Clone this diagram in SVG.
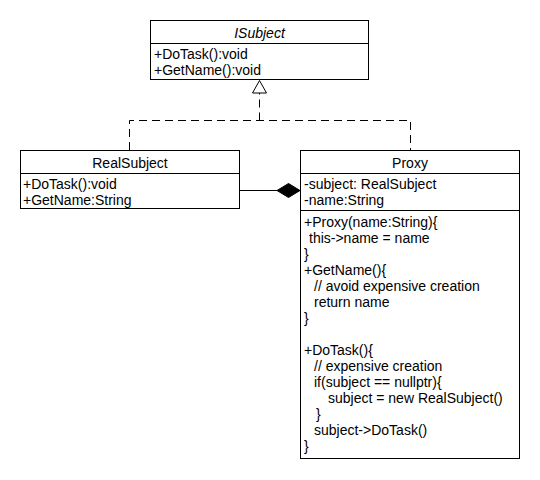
<svg xmlns="http://www.w3.org/2000/svg" width="540" height="480" viewBox="0 0 540 480">
<style>
.box{fill:#fff;stroke:#000;stroke-width:1}
.sep{stroke:#000;stroke-width:1}
text{font-family:"Liberation Sans",Arial,sans-serif;font-size:14px;fill:#000}
.c{text-anchor:middle}
.it{font-style:italic}
.dash{fill:none;stroke:#000;stroke-width:1;stroke-dasharray:8,5}
.solid{fill:none;stroke:#000;stroke-width:1}
</style>
<rect width="540" height="480" fill="#fff"/>
<g id="connectors">
<path class="dash" d="M129.5,150 V120.5 H410.5 V150"/>
<path class="dash" d="M259.5,120.5 V93"/>
<polygon points="259.5,80.5 252.5,93 266.5,93" fill="#fff" stroke="#000"/>
<line class="solid" x1="239.5" y1="190.5" x2="278" y2="190.5"/>
<polygon points="277,190.5 288.5,183.5 300,190.5 288.5,197.5" fill="#000" stroke="#000"/>
</g>
<g id="ISubject">
<rect class="box" x="150.5" y="20.5" width="218" height="59"/>
<line class="sep" x1="150.5" y1="43.5" x2="368.5" y2="43.5"/>
<text class="c it" x="259.5" y="38">ISubject</text>
<text x="154" y="59">+DoTask():void</text>
<text x="154" y="75">+GetName():void</text>
</g>
<g id="RealSubject">
<rect class="box" x="20.5" y="150.5" width="219" height="58"/>
<line class="sep" x1="20.5" y1="173.5" x2="239.5" y2="173.5"/>
<text class="c" x="130" y="168">RealSubject</text>
<text x="23" y="189">+DoTask():void</text>
<text x="23" y="205">+GetName:String</text>
</g>
<g id="Proxy">
<rect class="box" x="300.5" y="150.5" width="219" height="308"/>
<line class="sep" x1="300.5" y1="173.5" x2="519.5" y2="173.5"/>
<line class="sep" x1="300.5" y1="210.5" x2="519.5" y2="210.5"/>
<text class="c" x="410" y="168">Proxy</text>
<text x="304" y="189">-subject: RealSubject</text>
<text x="304" y="205">-name:String</text>
<text x="304" y="227">+Proxy(name:String){</text>
<text x="309" y="243">this-&gt;name = name</text>
<text x="304" y="259">}</text>
<text x="304" y="275">+GetName(){</text>
<text x="314" y="291">// avoid expensive creation</text>
<text x="314" y="307">return name</text>
<text x="304" y="323">}</text>
<text x="304" y="355">+DoTask(){</text>
<text x="314" y="371">// expensive creation</text>
<text x="314" y="387">if(subject == nullptr){</text>
<text x="328" y="403">subject = new RealSubject()</text>
<text x="316" y="419">}</text>
<text x="314" y="435">subject-&gt;DoTask()</text>
<text x="304" y="451">}</text>
</g>
</svg>
